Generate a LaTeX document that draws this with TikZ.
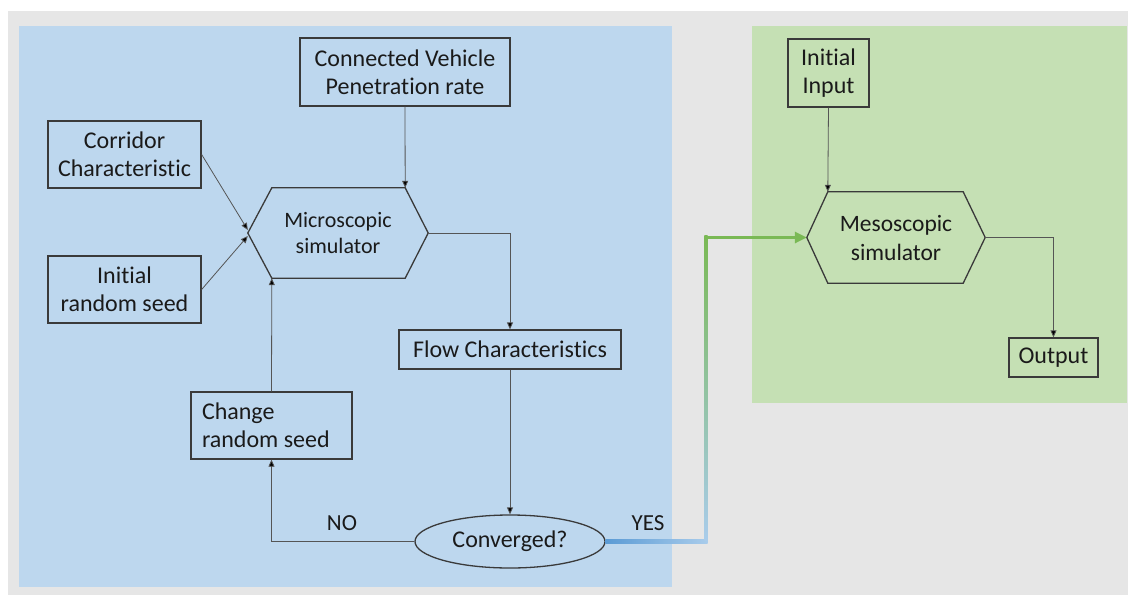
\documentclass[tikz,border=0pt]{standalone}
\usepackage{fontspec}
\setmainfont{Carlito}[Ligatures={NoCommon}]
\usetikzlibrary{arrows.meta,calc,shapes.geometric}
\definecolor{bgGray}{HTML}{E6E6E6}
\definecolor{panelBlue}{HTML}{BDD7EE}
\definecolor{panelGreen}{HTML}{C5E0B4}
\definecolor{boxLine}{HTML}{3A3A3A}
\definecolor{connLine}{HTML}{555555}
\definecolor{txt}{HTML}{1A1A1A}
\definecolor{yesBlue}{HTML}{5B9BD5}
\definecolor{yesLight}{HTML}{A9CCEB}
\definecolor{yesGreen}{HTML}{7AB955}
\tikzset{
  box/.style={draw=boxLine, line width=1.3pt, text=txt, align=center, inner sep=0pt,
              font=\fontsize{24}{28}\selectfont},
  hexbox/.style={inner sep=0pt, text=txt, align=center},
  hexline/.style={draw=boxLine, line width=1.3pt, line join=miter},
  conn/.style={draw=connLine, line width=0.8pt, -{Triangle[length=7pt,width=6pt,fill=black]}},
  lbl/.style={text=txt, font=\fontsize{23}{26}\selectfont, inner sep=0pt}
}
\begin{document}
\begin{tikzpicture}[x=1pt,y=-1pt]
\useasboundingbox (0,0) rectangle (1128,595);
% backgrounds
\fill[bgGray] (8,11) rectangle (1128,595);
\fill[panelBlue] (19,26) rectangle (672,587);
\fill[panelGreen] (752,26) rectangle (1127,403);

% nodes (left panel)
\node[box, minimum width=210pt, minimum height=68pt] (cv) at (405,72) {Connected Vehicle\\Penetration rate};
\node[box, minimum width=153pt, minimum height=67pt] (corr) at (124.5,154.5) {Corridor\\Characteristic};
\node[box, minimum width=153pt, minimum height=67pt] (seed) at (124.5,289.5) {Initial\\random seed};
\node[hexbox, minimum width=180pt, minimum height=90pt, font=\fontsize{22}{26}\selectfont] (micro) at (338,233) {Microscopic\\simulator};
\node[box, minimum width=222pt, minimum height=39pt] (flow) at (510,349.5) {Flow Characteristics};
\node[box, minimum width=161pt, minimum height=67pt, align=flush left, text width=139pt] (chg) at (271.5,425.5) {Change\\random seed};
\node[ellipse, draw=boxLine, line width=1.3pt, minimum width=190pt, minimum height=53pt, inner sep=0pt,
      text=txt, font=\fontsize{24}{28}\selectfont] (conv) at (510,541.5) {Converged?};

% nodes (right panel)
\node[box, minimum width=81pt, minimum height=68pt] (inp) at (828.5,73) {Initial\\Input};
\node[hexbox, minimum width=178pt, minimum height=91pt, font=\fontsize{23.5}{29}\selectfont] (meso) at (896,237.5) {Mesoscopic\\simulator};
\node[box, minimum width=89pt, minimum height=39pt] (out) at (1053.5,357.5) {Output};

% hexagon outlines
\coordinate (mTL) at ($(micro.north west)+(24,0)$);
\coordinate (mTR) at ($(micro.north east)+(-23,0)$);
\coordinate (mBL) at ($(micro.south west)+(24,0)$);
\coordinate (mBR) at ($(micro.south east)+(-23,0)$);
\draw[hexline] (mTL) -- (mTR) -- (micro.east) -- (mBR) -- (mBL) -- (micro.west) -- cycle;
\coordinate (sTL) at ($(meso.north west)+(21,0)$);
\coordinate (sTR) at ($(meso.north east)+(-22,0)$);
\coordinate (sBL) at ($(meso.south west)+(21,0)$);
\coordinate (sBR) at ($(meso.south east)+(-22,0)$);
\draw[hexline] (sTL) -- (sTR) -- (meso.east) -- (sBR) -- (sBL) -- (meso.west) -- cycle;

% connectors
\draw[conn] (cv.south) -- (mTR);
\draw[conn] (corr.east) -- ($(micro.west)+(0,-3)$);
\draw[conn] (seed.east) -- ($(micro.west)+(0,3)$);
\draw[conn] (micro.east) -| (flow.north);
\draw[conn] (flow.south) -- (conv.north);
\draw[conn] (conv.west) -| (chg.south);
\draw[conn] (chg.north) -- (mBL);
\draw[conn] (inp.south) -- (sTL);
\draw[conn] (meso.east) -| (out.north);

% YES connector with colour gradient
\coordinate (y1) at (706,542);
\coordinate (y2) at (706,237.5);
\shade[left color=yesBlue, right color=yesLight] ($(conv.east)+(0,-1.6)$) rectangle ($(y1)+(1.6,1.6)$);
\shade[bottom color=yesLight, top color=yesGreen] ($(y1)+(-1.6,-1.6)$) rectangle ($(y2)+(1.6,-1.6)$);
\draw[yesGreen, line width=3.2pt, line cap=rect, -{Triangle[length=12pt,width=11pt]}] (y2) -- (meso.west);

% labels
\node[lbl] (nolbl) at (342,523) {NO};
\node[lbl] (yeslbl) at (648,523) {YES};
\end{tikzpicture}
\end{document}
